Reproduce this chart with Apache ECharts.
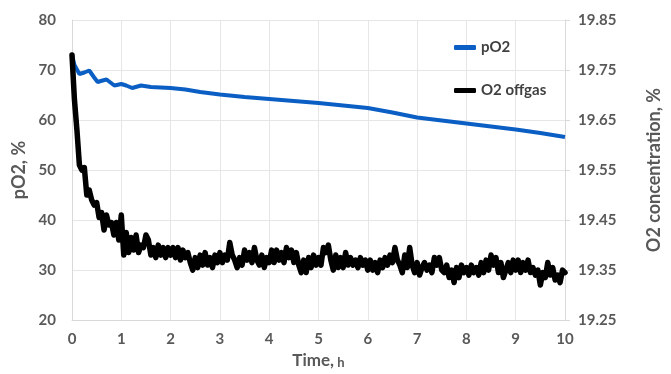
<!DOCTYPE html>
<html>
<head>
<meta charset="utf-8">
<script src="https://cdn.jsdelivr.net/npm/echarts@6/dist/echarts.min.js"></script>
<style>
  html, body { margin: 0; padding: 0; background: #fff; }
  #chart { width: 671px; height: 374px; }
</style>
</head>
<body>
<div id="chart"></div>
<script>
// pO2 (left axis, %)
var pO2Time = [0, 0.05, 0.15, 0.25, 0.35, 0.45, 0.52, 0.62, 0.7, 0.78, 0.86, 1.0, 1.1, 1.22, 1.4, 1.6, 1.8,
    2.0, 2.3, 2.6, 3.0, 3.5, 4.0, 4.5, 5.0, 5.5, 6.0, 6.5, 7.0, 7.5, 8.0, 8.5, 9.0, 9.5, 10.0];
var pO2Values = [73, 71, 69.2, 69.5, 69.9, 68.5, 67.6, 67.9, 68.1, 67.5, 66.9, 67.2, 66.9, 66.4, 66.9, 66.6, 66.5,
    66.4, 66.1, 65.6, 65.1, 64.6, 64.2, 63.8, 63.4, 62.9, 62.4, 61.5, 60.5, 59.9, 59.3, 58.7, 58.1, 57.4, 56.6];

// O2 offgas (right axis, %), one reading every 0.05 h
var offgasStep = 0.05;
var offgasValues = [
    19.78, 19.69, 19.63, 19.56, 19.55, 19.555, 19.50, 19.51, 19.49, 19.48, 19.485, 19.455, 19.465, 19.43, 19.46, 19.44, 19.445, 19.42, 19.445, 19.41,
    19.46, 19.38, 19.425, 19.385, 19.415, 19.39, 19.42, 19.385, 19.40, 19.395, 19.42, 19.41, 19.38, 19.395, 19.375, 19.40, 19.38, 19.395, 19.375, 19.395,
    19.38, 19.395, 19.375, 19.395, 19.37, 19.39, 19.375, 19.385, 19.365, 19.35, 19.375, 19.355, 19.38, 19.36, 19.385, 19.36, 19.375, 19.355, 19.38, 19.365,
    19.385, 19.365, 19.38, 19.37, 19.405, 19.38, 19.37, 19.355, 19.375, 19.36, 19.39, 19.37, 19.385, 19.365, 19.395, 19.37, 19.36, 19.38, 19.355, 19.375,
    19.365, 19.39, 19.365, 19.39, 19.37, 19.385, 19.365, 19.395, 19.375, 19.39, 19.365, 19.385, 19.36, 19.345, 19.37, 19.345, 19.375, 19.355, 19.38, 19.36,
    19.375, 19.36, 19.395, 19.385, 19.40, 19.37, 19.35, 19.38, 19.355, 19.375, 19.355, 19.385, 19.36, 19.375, 19.36, 19.37, 19.355, 19.375, 19.36, 19.37,
    19.35, 19.37, 19.35, 19.365, 19.345, 19.37, 19.355, 19.375, 19.36, 19.38, 19.365, 19.395, 19.37, 19.36, 19.345, 19.38, 19.355, 19.395, 19.36, 19.345,
    19.365, 19.34, 19.355, 19.365, 19.35, 19.36, 19.345, 19.375, 19.36, 19.375, 19.35, 19.345, 19.36, 19.335, 19.35, 19.325, 19.355, 19.335, 19.36, 19.345,
    19.355, 19.34, 19.36, 19.345, 19.355, 19.34, 19.365, 19.345, 19.37, 19.35, 19.38, 19.36, 19.375, 19.345, 19.365, 19.335, 19.35, 19.365, 19.345, 19.37,
    19.35, 19.37, 19.345, 19.365, 19.35, 19.37, 19.345, 19.355, 19.34, 19.35, 19.32, 19.345, 19.335, 19.365, 19.34, 19.355, 19.33, 19.34, 19.325, 19.35,
    19.345
];

var font = 'Lato, "Open Sans", sans-serif';
var textColor = '#595959';

var pO2Data = pO2Time.map(function (t, i) { return [t, pO2Values[i]]; });
var offgasData = offgasValues.map(function (v, i) { return [+(i * offgasStep).toFixed(2), v]; });

var chart = echarts.init(document.getElementById('chart'));

var option = {
    animation: false,
    grid: {
        left: 72,
        right: 105,
        top: 20,
        bottom: 52
    },
    legend: {
        orient: 'vertical',
        left: 449,
        top: 35,
        itemGap: 28,
        itemWidth: 22,
        itemHeight: 5,
        icon: 'roundRect',
        textStyle: {
            fontFamily: font,
            fontWeight: 'bold',
            fontSize: 15,
            color: '#404040'
        },
        data: ['pO2', 'O2 offgas']
    },
    xAxis: {
        type: 'value',
        min: 0,
        max: 10,
        interval: 1,
        name: '{a|Time,} {b|h}',
        nameLocation: 'middle',
        nameGap: 28,
        nameTextStyle: {
            rich: {
                a: { fontFamily: font, fontWeight: 'bold', fontSize: 17, color: textColor },
                b: { fontFamily: font, fontWeight: 'bold', fontSize: 13, color: textColor, padding: [4, 0, 0, 0] }
            }
        },
        axisLine: { lineStyle: { color: '#d9d9d9', width: 1 } },
        axisTick: { show: false },
        axisLabel: {
            fontFamily: font,
            fontWeight: 'bold',
            fontSize: 15,
            color: textColor,
            margin: 12
        },
        splitLine: { show: true, lineStyle: { color: '#e6e6e6' } }
    },
    yAxis: [
        {
            type: 'value',
            min: 20,
            max: 80,
            interval: 10,
            name: 'pO2, %',
            nameLocation: 'middle',
            nameRotate: 90,
            nameGap: 38,
            nameTextStyle: {
                fontFamily: font,
                fontWeight: 'bold',
                fontSize: 18,
                color: textColor
            },
            axisLine: { show: true, lineStyle: { color: '#d9d9d9', width: 1 } },
            axisTick: { show: false },
            axisLabel: {
                fontFamily: font,
                fontWeight: 'bold',
                fontSize: 15,
                color: textColor,
                margin: 16
            },
            splitLine: { show: true, lineStyle: { color: '#e6e6e6' } }
        },
        {
            type: 'value',
            min: 19.25,
            max: 19.85,
            interval: 0.1,
            position: 'right',
            name: 'O2 concentration, %',
            nameLocation: 'middle',
            nameRotate: 90,
            nameGap: 80,
            nameTextStyle: {
                fontFamily: font,
                fontWeight: 'bold',
                fontSize: 18,
                color: textColor
            },
            axisLine: { show: true, lineStyle: { color: '#d9d9d9', width: 1 } },
            axisTick: { show: true, length: 5, lineStyle: { color: '#d9d9d9' } },
            axisLabel: {
                fontFamily: font,
                fontWeight: 'bold',
                fontSize: 15,
                color: textColor,
                margin: 13,
                formatter: function (v) { return v.toFixed(2); }
            },
            splitLine: { show: false }
        }
    ],
    series: [
        {
            name: 'pO2',
            type: 'line',
            yAxisIndex: 0,
            showSymbol: false,
            symbol: 'none',
            color: '#0b5fc4',
            lineStyle: { width: 4, color: '#0b5fc4' },
            data: pO2Data
        },
        {
            name: 'O2 offgas',
            type: 'line',
            yAxisIndex: 1,
            showSymbol: false,
            symbol: 'none',
            color: '#000000',
            lineStyle: { width: 5.5, color: '#000000', join: 'round', cap: 'round' },
            data: offgasData
        }
    ]
};

chart.setOption(option);
</script>
</body>
</html>
